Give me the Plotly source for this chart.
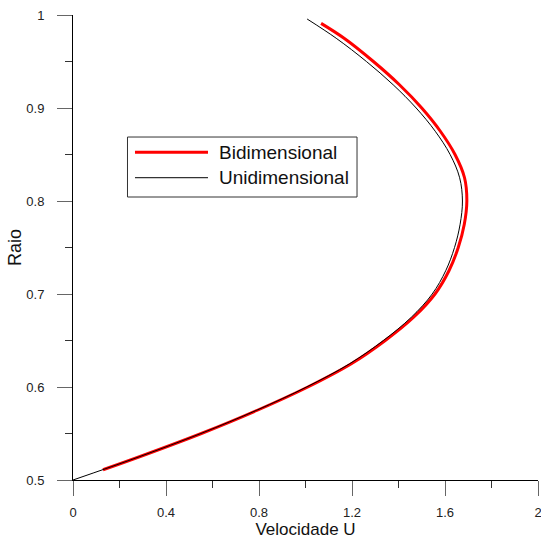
import plotly.graph_objects as go

# Bidimensional (red) profile: radius vs velocity
raio_bi = [0.511, 0.525, 0.55, 0.575, 0.60, 0.625, 0.65, 0.675, 0.70, 0.725, 0.75, 0.775,
           0.80, 0.825, 0.85, 0.875, 0.90, 0.925, 0.95, 0.975, 0.991]
vel_bi = [0.129, 0.286, 0.552, 0.793, 1.010, 1.197, 1.343, 1.465, 1.557, 1.617, 1.657, 1.683,
          1.694, 1.684, 1.643, 1.580, 1.500, 1.404, 1.292, 1.166, 1.067]

# Unidimensional (black) profile
raio_uni = [0.50, 0.525, 0.55, 0.575, 0.60, 0.625, 0.65, 0.675, 0.70, 0.725, 0.75, 0.775,
            0.80, 0.825, 0.85, 0.875, 0.90, 0.925, 0.95, 0.975, 0.9957]
vel_uni = [0.0, 0.285, 0.55, 0.79, 1.005, 1.19, 1.335, 1.455, 1.545, 1.603, 1.641, 1.665,
           1.675, 1.663, 1.622, 1.558, 1.476, 1.377, 1.262, 1.132, 1.007]

x_ticks = [0, 0.4, 0.8, 1.2, 1.6, 2]
y_ticks = [0.5, 0.6, 0.7, 0.8, 0.9, 1]
series_names = ["Bidimensional", "Unidimensional"]
series_colors = ["#ff0000", "#000000"]
series_widths = [3, 1]

fig = go.Figure()
fig.add_trace(go.Scatter(x=vel_bi, y=raio_bi, mode="lines", name=series_names[0],
                         line=dict(color=series_colors[0], width=series_widths[0], shape="spline"),
                         showlegend=False))
fig.add_trace(go.Scatter(x=vel_uni, y=raio_uni, mode="lines", name=series_names[1],
                         line=dict(color=series_colors[1], width=series_widths[1], shape="spline"),
                         showlegend=False))

# Legend box drawn in paper coordinates (matches the reference's long sample lines)
fig.add_shape(type="rect", xref="paper", yref="paper", x0=0.1172, x1=0.6108, y0=0.6086, y1=0.7376,
              line=dict(color="#333333", width=1), fillcolor="white", layer="above")
legend_rows_y = [0.7047, 0.6501]
for name, col, w, yy in zip(series_names, series_colors, series_widths, legend_rows_y):
    fig.add_shape(type="line", xref="paper", yref="paper", x0=0.1333, x1=0.2903, y0=yy, y1=yy,
                  line=dict(color=col, width=w), layer="above")
    fig.add_annotation(xref="paper", yref="paper", x=0.309, y=yy, text=name, showarrow=False,
                       xanchor="left", yanchor="middle",
                       font=dict(size=19, color="#111111"))

font_family = "Liberation Sans, Arial, sans-serif"
fig.update_layout(
    width=541, height=540,
    margin=dict(l=73, r=3, t=15, b=60),
    plot_bgcolor="white", paper_bgcolor="white",
    font=dict(family=font_family, color="#222222"),
    showlegend=False,
    xaxis=dict(range=[0, 2], tickvals=x_ticks, ticktext=[str(v) for v in x_ticks],
               automargin=False, ticklabeloverflow="allow",
               showgrid=False, zeroline=False, showline=True, linecolor="black", linewidth=1,
               ticks="outside", ticklen=15, tickcolor="#666666", tickwidth=1,
               tickfont=dict(size=13), ticklabelstandoff=5,
               minor=dict(dtick=0.2, ticks="outside", ticklen=7, tickcolor="#333333", showgrid=False),
               title=dict(text="Velocidade U", font=dict(size=17, color="#111111"), standoff=2)),
    yaxis=dict(range=[0.5, 1], tickvals=y_ticks, ticktext=[str(v) for v in y_ticks],
               automargin=False, ticklabeloverflow="allow",
               showgrid=False, zeroline=False, showline=True, linecolor="black", linewidth=1,
               ticks="outside", ticklen=15, tickcolor="#666666", tickwidth=1,
               tickfont=dict(size=13), ticklabelstandoff=10,
               minor=dict(dtick=0.05, ticks="outside", ticklen=7, tickcolor="#333333", showgrid=False),
               title=dict(text="Raio", font=dict(size=18, color="#111111"), standoff=0)),
)

fig.write_html("out.html", config={"displayModeBar": False},
               post_script="document.body.style.margin='0';document.body.style.overflow='hidden';")
